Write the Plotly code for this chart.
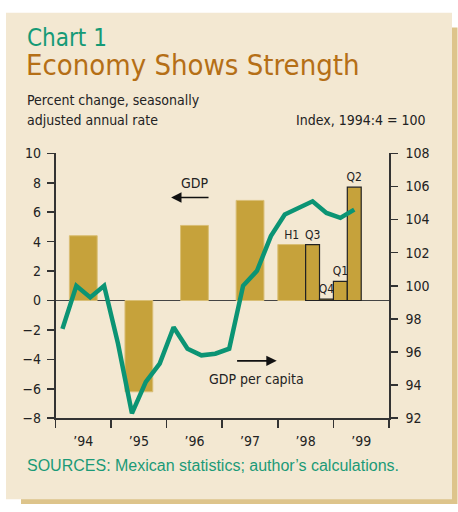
import plotly.graph_objects as go

W, H = 458, 512

# ---------------- data ----------------
annual_years = [1994, 1995, 1996, 1997]
annual_gdp = [4.4, -6.2, 5.1, 6.8]

half_label = "H1"
half_year = 1998
half_gdp = 3.8

quarter_labels = ["Q3", "Q4", "Q1", "Q2"]
quarter_years = [1998, 1998, 1999, 1999]
quarter_nums = [3, 4, 1, 2]
quarter_gdp = [3.8, 0.1, 1.3, 7.7]

pc_start_year = 1994
gdp_per_capita = [97.4, 100.0, 99.3, 100.0,
                  96.5, 92.3, 94.2, 95.3,
                  97.5, 96.2, 95.8, 95.9,
                  96.2, 100.0, 100.9, 103.0,
                  104.3, 104.7, 105.1, 104.4,
                  104.1, 104.6]

year_ticks = [1994, 1995, 1996, 1997, 1998, 1999]
year_labels = ["\u201994", "\u201995", "\u201996", "\u201997", "\u201998", "\u201999"]

# ---------------- styling ----------------
FONT = "DejaVu Sans Condensed, Liberation Sans Narrow, Roboto Condensed, Arial Narrow, sans-serif"
BAR = "#C6A23B"
BAR_EDGE = "#D9BE74"
GREEN = "#0B9474"
CARD = "#F3E8D2"
SHADOW = "#DDC48B"
AX = "#333333"


def px(x):
    return x / W


def py(y):
    return 1 - y / H


fig = go.Figure()

# annual + half-year bars
bx = [y + 0.5 for y in annual_years] + [half_year + 0.25]
bw = [0.5] * len(annual_years) + [0.5]
by = annual_gdp + [half_gdp]
bt = [""] * len(annual_years) + [half_label]
fig.add_trace(go.Bar(
    x=bx, y=by, width=bw, text=bt, textposition="outside",
    constraintext="none", cliponaxis=False,
    textfont=dict(family=FONT, size=12, color="#222"),
    marker=dict(color=BAR, line=dict(color=BAR_EDGE, width=1)),
    showlegend=False, hoverinfo="skip", xaxis="x", yaxis="y",
))

# quarterly bars
qx = [y + (q - 0.5) / 4 for y, q in zip(quarter_years, quarter_nums)]
fig.add_trace(go.Bar(
    x=qx, y=quarter_gdp, width=[0.25] * len(qx), text=quarter_labels,
    textposition="outside", constraintext="none", cliponaxis=False,
    textfont=dict(family=FONT, size=12, color="#222"),
    marker=dict(color=BAR, line=dict(color="#222", width=1.2)),
    showlegend=False, hoverinfo="skip", xaxis="x", yaxis="y",
))

# GDP per capita line
lx = [pc_start_year + (i + 0.5) / 4 for i in range(len(gdp_per_capita))]
fig.add_trace(go.Scatter(
    x=lx, y=gdp_per_capita, mode="lines",
    line=dict(color=GREEN, width=4.5),
    showlegend=False, hoverinfo="skip", xaxis="x", yaxis="y2",
))

fig.update_layout(
    width=W, height=H,
    margin=dict(l=0, r=0, t=0, b=0),
    paper_bgcolor="white",
    plot_bgcolor="rgba(0,0,0,0)",
    barmode="overlay",
    font=dict(family=FONT, size=14, color="#222"),
    xaxis=dict(
        domain=[px(55.5), px(389)],
        range=[1994, 2000],
        tickvals=[y + 0.5 for y in year_ticks],
        ticktext=year_labels,
        ticks="", showgrid=False, zeroline=False,
        showline=True, linecolor=AX, linewidth=1.6,
        tickfont=dict(family=FONT, size=14, color="#222"),
        ticklabelstandoff=9,
        minor=dict(tickvals=year_ticks + [2000], ticks="outside", ticklen=8,
                   tickcolor=AX, tickwidth=1.6, showgrid=False),
    ),
    yaxis=dict(
        domain=[py(423.5), py(150)],
        range=[-8, 10], dtick=2,
        ticks="outside", ticklen=7, tickwidth=1.6, tickcolor=AX,
        showline=True, linecolor=AX, linewidth=1.6,
        showgrid=False, zeroline=True, zerolinecolor="#444", zerolinewidth=1.6,
        tickfont=dict(family=FONT, size=14, color="#222"),
        ticklabelstandoff=3,
    ),
    yaxis2=dict(
        overlaying="y", side="right", anchor="x",
        range=[92, 108], dtick=2,
        ticks="outside", ticklen=7, tickwidth=1.6, tickcolor=AX,
        showline=True, linecolor=AX, linewidth=1.6,
        showgrid=False, zeroline=False,
        tickfont=dict(family=FONT, size=14, color="#222"),
        ticklabelstandoff=5,
    ),
)

# card and shadow
fig.add_shape(type="rect", xref="paper", yref="paper",
              x0=px(21), x1=px(457.5), y0=py(512), y1=py(20),
              fillcolor=SHADOW, line=dict(width=0), layer="below")
fig.add_shape(type="rect", xref="paper", yref="paper",
              x0=px(6), x1=px(452), y0=py(507), y1=py(5),
              fillcolor=CARD, line=dict(width=0), layer="below")

ann = []
ann.append(dict(text="Chart 1", x=px(25), y=py(31), xref="paper", yref="paper",
                xanchor="left", yanchor="middle", showarrow=False,
                font=dict(family=FONT, size=24, color="#159A76")))
ann.append(dict(text="Economy Shows Strength", x=px(24), y=py(58.5), xref="paper", yref="paper",
                xanchor="left", yanchor="middle", showarrow=False,
                font=dict(family=FONT, size=29, color="#B56F16")))
ann.append(dict(text="Percent change, seasonally", x=px(25), y=py(95), xref="paper", yref="paper",
                xanchor="left", yanchor="middle", showarrow=False,
                font=dict(family=FONT, size=14, color="#222")))
ann.append(dict(text="adjusted annual rate", x=px(25), y=py(116), xref="paper", yref="paper",
                xanchor="left", yanchor="middle", showarrow=False,
                font=dict(family=FONT, size=14, color="#222")))
ann.append(dict(text="Index, 1994:4 = 100", x=px(428), y=py(116), xref="paper", yref="paper",
                xanchor="right", yanchor="middle", showarrow=False,
                font=dict(family=FONT, size=14, color="#222")))
ann.append(dict(text="SOURCES: Mexican statistics; author\u2019s calculations.",
                x=px(25), y=py(472), xref="paper", yref="paper",
                xanchor="left", yanchor="middle", showarrow=False,
                font=dict(family="Liberation Sans, Arial, sans-serif", size=16, color="#1B9A77")))

# series labels with arrows
ann.append(dict(text="GDP", x=1996.5, y=7.96, xref="x", yref="y",
                xanchor="center", yanchor="middle", showarrow=False,
                font=dict(family=FONT, size=14, color="#222")))
ann.append(dict(text="", x=1996.08, y=7.0, ax=1996.78, ay=7.0,
                xref="x", yref="y", axref="x", ayref="y",
                showarrow=True, arrowhead=2, arrowsize=1.3, arrowwidth=1.6, arrowcolor="#111"))
ann.append(dict(text="GDP per capita", x=1997.625, y=-5.33, xref="x", yref="y",
                xanchor="center", yanchor="middle", showarrow=False,
                font=dict(family=FONT, size=14, color="#222")))
ann.append(dict(text="", x=1997.98, y=-4.1, ax=1997.24, ay=-4.1,
                xref="x", yref="y", axref="x", ayref="y",
                showarrow=True, arrowhead=2, arrowsize=1.3, arrowwidth=1.6, arrowcolor="#111"))

fig.update_layout(annotations=ann)

fig.write_html("out.html",
               config={"displayModeBar": False, "staticPlot": True},
               post_script="document.body.style.margin='0px';document.body.style.overflow='hidden';")
